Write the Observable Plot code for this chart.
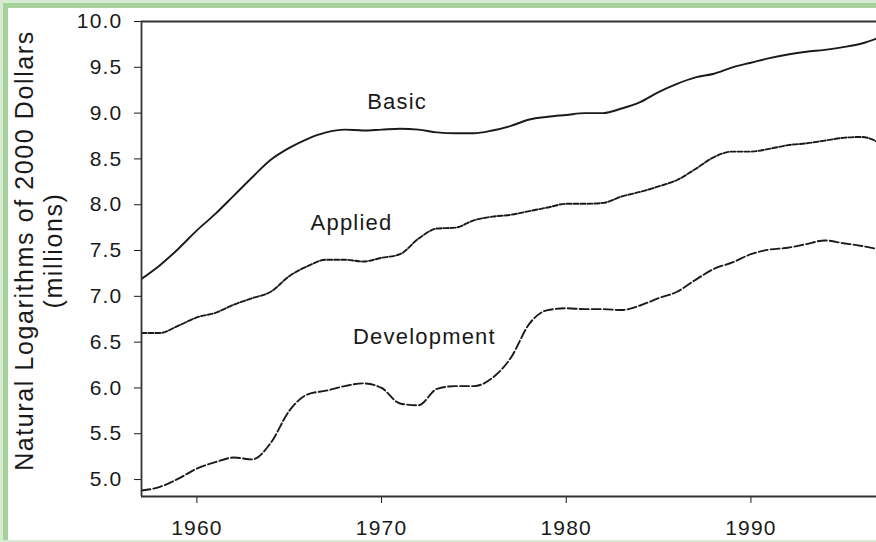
<!DOCTYPE html>
<html><head><meta charset="utf-8">
<script src="https://cdn.jsdelivr.net/npm/d3@7"></script>
<script src="https://cdn.jsdelivr.net/npm/@observablehq/plot@0.6"></script>
<style>
html,body{margin:0;padding:0;overflow:hidden;background:#fff}
.outer{width:876px;height:542px;box-sizing:border-box;background:#d7ebd2;padding:3px 0 2px 3px}
.inner{border-left:5px solid #a6d19c;border-top:5px solid #a6d19c;background:#fff;width:868px;height:532px;overflow:hidden}
#chart svg text{letter-spacing:1.2px}
#chart svg text[transform*="rotate"]{letter-spacing:1.6px}
</style></head><body>
<div class="outer"><div class="inner" id="chart"></div></div>
<script>
const years = [1957,1958,1959,1960,1961,1962,1963,1964,1965,1966,1967,1968,1969,1970,1971,1972,1973,1974,1975,1976,1977,1978,1979,1980,1981,1982,1983,1984,1985,1986,1987,1988,1989,1990,1991,1992,1993,1994,1995,1996,1997];
const basic = [7.19,7.34,7.52,7.72,7.90,8.10,8.30,8.49,8.62,8.72,8.79,8.82,8.81,8.82,8.83,8.82,8.79,8.78,8.78,8.81,8.86,8.93,8.96,8.98,9.00,9.00,9.05,9.12,9.23,9.32,9.39,9.43,9.50,9.55,9.60,9.64,9.67,9.69,9.72,9.76,9.83];
const applied = [6.60,6.60,6.68,6.77,6.82,6.91,6.98,7.05,7.22,7.33,7.40,7.40,7.38,7.42,7.46,7.63,7.74,7.75,7.83,7.87,7.89,7.93,7.97,8.01,8.01,8.02,8.09,8.14,8.20,8.27,8.39,8.52,8.58,8.58,8.61,8.65,8.67,8.70,8.73,8.74,8.67];
const development = [4.88,4.92,5.01,5.12,5.19,5.24,5.22,5.40,5.75,5.93,5.97,6.02,6.05,6.00,5.83,5.81,5.99,6.02,6.02,6.11,6.33,6.70,6.85,6.87,6.86,6.86,6.85,6.90,6.98,7.05,7.18,7.30,7.37,7.46,7.51,7.53,7.57,7.61,7.58,7.55,7.51];

const seriesNames = ["Basic", "Applied", "Development"];
const labelX = [1970.84, 1968.37, 1972.32];
const labelY = [9.12, 7.80, 6.56];

const xTicks = [1960, 1970, 1980, 1990];
const yTicks = [5.0, 5.5, 6.0, 6.5, 7.0, 7.5, 8.0, 8.5, 9.0, 9.5, 10.0];
const yLabelLines = ["Natural Logarithms of 2000 Dollars", "(millions)"];

const xDomain = [1957, 1996.8];
const yDomain = [4.815, 10.0];

const rows = s => years.map((yr, i) => ({year: yr, value: s[i]}));
const labels = seriesNames.map((n, i) => ({name: n, x: labelX[i], y: labelY[i]}));
const ink = "#1a1a1a";
const axisInk = "#333";

const chart = Plot.plot({
  width: 868,
  height: 532,
  marginLeft: 133,
  marginRight: 0,
  marginTop: 13,
  marginBottom: 44,
  style: {fontFamily: "'Liberation Sans', Arial, sans-serif", fontSize: "21px", color: "#1a1a1a", background: "white"},
  x: {domain: xDomain, ticks: xTicks, tickFormat: d3.format("d"), tickSize: 7, tickPadding: 17, label: null},
  y: {domain: yDomain, ticks: yTicks, tickFormat: d3.format(".1f"), tickSize: 7, tickPadding: 12, label: null},
  marks: [
    Plot.line(rows(basic), {x: "year", y: "value", stroke: ink, strokeWidth: 1.9, curve: "monotone-x", clip: true}),
    Plot.line(rows(applied), {x: "year", y: "value", stroke: ink, strokeWidth: 1.9, strokeDasharray: "5,2", curve: "monotone-x", clip: true}),
    Plot.line(rows(development), {x: "year", y: "value", stroke: ink, strokeWidth: 1.9, strokeDasharray: "9,3", curve: "monotone-x", clip: true}),
    Plot.ruleY([yDomain[1]], {stroke: axisInk, strokeWidth: 1.8}),
    Plot.ruleY([yDomain[0]], {stroke: axisInk, strokeWidth: 1.8}),
    Plot.ruleX([xDomain[0]], {stroke: axisInk, strokeWidth: 1.8}),
    Plot.text(labels, {x: "x", y: "y", text: "name", fontSize: 22, fill: "#1a1a1a"}),
    Plot.text([yLabelLines[0]], {text: d => d, frameAnchor: "left", textAnchor: "middle", rotate: -90, lineAnchor: "bottom", dx: -109, dy: -8.5, fontSize: 25, fill: "#1a1a1a"}),
    Plot.text([yLabelLines[1]], {text: d => d, frameAnchor: "left", textAnchor: "middle", rotate: -90, lineAnchor: "bottom", dx: -80, dy: -8.5, fontSize: 25, fill: "#1a1a1a"})
  ]
});
document.getElementById("chart").appendChild(chart);
</script></body></html>
